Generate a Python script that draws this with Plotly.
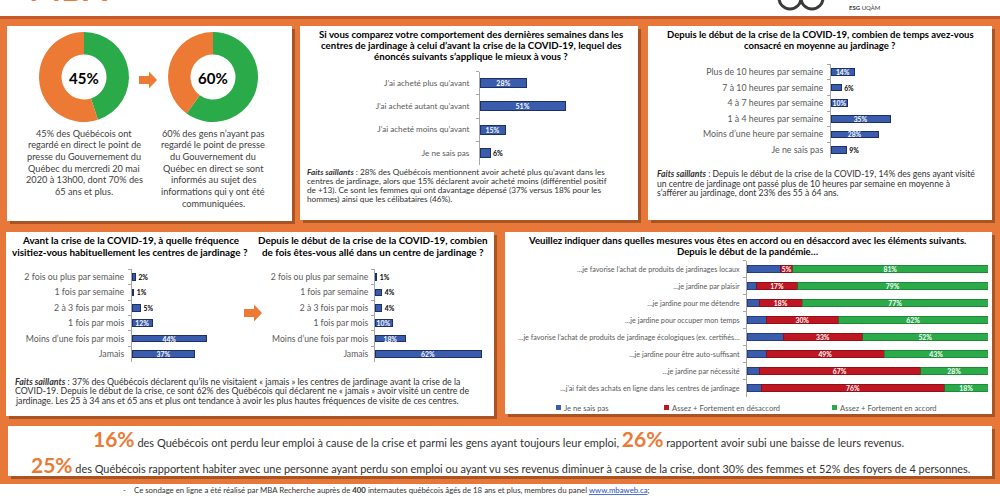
import plotly.graph_objects as go

W, H = 1000, 500
def X(p): return p / W
def Y(p): return 1 - p / H

FONT = "Lato, Roboto, sans-serif"
ORANGE = "#EC7A35"
BG_ORANGE = "#E8783A"
GREEN = "#2BAA4A"
GREEN_EDGE = "#1B7A33"
BLUE = "#3A5CAD"
BLUE_EDGE = "#1E2F66"
RED = "#BE1622"
RED_EDGE = "#7E0E14"
GRAY_LABEL = "#595959"
TEXT = "#303030"

# ---------------- data ----------------
donut_pct = [45, 60]
donut_labels = ["45%", "60%"]

achat_cats = ["J’ai acheté plus qu’avant", "J’ai acheté autant qu’avant",
              "J’ai acheté moins qu’avant", "Je ne sais pas"]
achat_vals = [28, 51, 15, 6]

temps_cats = ["Plus de 10 heures par semaine", "7 à 10 heures par semaine",
              "4 à 7 heures par semaine", "1 à 4 heures par semaine",
              "Moins d’une heure par semaine", "Je ne sais pas"]
temps_vals = [14, 6, 10, 35, 28, 9]

freq_cats = ["2 fois ou plus par semaine", "1 fois par semaine", "2 à 3 fois par mois",
             "1 fois par mois", "Moins d’une fois par mois", "Jamais"]
avant_vals = [2, 1, 5, 12, 44, 37]
depuis_vals = [1, 4, 4, 10, 18, 62]

accord_cats = ["…je favorise l’achat de produits de jardinages locaux",
               "…je jardine par plaisir",
               "…je jardine pour me détendre",
               "…je jardine pour occuper mon temps",
               "…je favorise l’achat de produits de jardinage écologiques (ex. certifiés…",
               "…je jardine pour être auto-suffisant",
               "…je jardine par nécessité",
               "…j’ai fait des achats en ligne dans les centres de jardinage"]
nsp_vals = [14, 4, 5, 8, 15, 8, 5, 6]
desaccord_vals = [5, 17, 18, 30, 33, 49, 67, 76]
accord_vals = [81, 79, 77, 62, 52, 43, 28, 18]
accord_series = ["Je ne sais pas", "Assez + Fortement en désaccord", "Assez + Fortement en accord"]

# ---------------- helpers ----------------
fig = go.Figure()
shapes = []
annotations = []
layout_axes = {}

def rect(x0, y0, x1, y1, color):
    shapes.append(dict(type="rect", xref="paper", yref="paper", x0=X(x0), x1=X(x1),
                       y0=Y(y1), y1=Y(y0), fillcolor=color, line=dict(width=0), layer="below"))

def panel(x0, y0, x1, y1):
    rect(x0 + 3, y0 + 3, x1 + 3, y1 + 3, "rgba(90,40,10,0.45)")
    rect(x0, y0, x1, y1, "white")

def txt(x, y, s, size, color=TEXT, xanchor="center", family=FONT, yanchor="middle"):
    annotations.append(dict(x=X(x), y=Y(y), xref="paper", yref="paper", text=s, showarrow=False,
                            xanchor=xanchor, yanchor=yanchor, align="left" if xanchor == "left" else "center",
                            font=dict(size=size, color=color, family=family), borderpad=0))

def lines(x, y0, dy, items, size, color=TEXT, xanchor="center"):
    for i, s in enumerate(items):
        txt(x, y0 + i * dy, s, size, color, xanchor)

def arrow(x0, yc, length=18, body_h=8, head_h=17, head_len=8):
    pts = [(x0, yc - body_h / 2), (x0 + length - head_len, yc - body_h / 2),
           (x0 + length - head_len, yc - head_h / 2), (x0 + length, yc),
           (x0 + length - head_len, yc + head_h / 2), (x0 + length - head_len, yc + body_h / 2),
           (x0, yc + body_h / 2)]
    path = "M " + " L ".join(f"{X(a):.5f},{Y(b):.5f}" for a, b in pts) + " Z"
    shapes.append(dict(type="path", xref="paper", yref="paper", path=path,
                       fillcolor=ORANGE, line=dict(width=0), layer="above"))

def axes(n, x0px, ppp, xmax, ytop, ybot, tick_size, standoff=1):
    layout_axes[f"xaxis{n}"] = dict(domain=[X(x0px), X(x0px + ppp * xmax)], range=[0, xmax],
                                    visible=False, anchor=f"y{n}", fixedrange=True)
    layout_axes[f"yaxis{n}"] = dict(domain=[Y(ybot), Y(ytop)], anchor=f"x{n}", autorange="reversed",
                                    type="category", showline=True, linecolor="#A6A6A6", linewidth=1,
                                    ticks="outside", tickson="boundaries", ticklen=3, tickcolor="#A6A6A6",
                                    tickfont=dict(size=tick_size, color=GRAY_LABEL, family=FONT),
                                    showgrid=False, zeroline=False, ticklabelstandoff=standoff,
                                    fixedrange=True)

def hbar(n, cats, vals, inside_min, label_size, width=0.42):
    pos = ["inside" if v >= inside_min else "outside" for v in vals]
    fig.add_trace(go.Bar(
        x=vals, y=cats, orientation="h", xaxis=f"x{n}", yaxis=f"y{n}",
        marker=dict(color=BLUE, line=dict(color=BLUE_EDGE, width=1)), width=width,
        text=[f"<b>{v}%</b>" for v in vals], textposition=pos, textangle=0,
        insidetextanchor="middle", constraintext="none", cliponaxis=False,
        insidetextfont=dict(color="white", size=label_size, family=FONT),
        outsidetextfont=dict(color="black", size=label_size, family=FONT),
        showlegend=False, hoverinfo="skip"))

# ---------------- background ----------------
rect(0, 16, 1000, 484, BG_ORANGE)
rect(0, 16, 1000, 19, "#C4592A")

panel(7, 26, 292, 221)
panel(300, 26, 638, 220)
panel(648, 26, 992, 220)
panel(6, 232, 494, 416)
panel(505, 232, 992, 414)
panel(8, 426, 992, 476)

# ---------------- header (cut off logos) ----------------
txt(28, 9, "<b>MBA</b>", 34, ORANGE, xanchor="left", yanchor="bottom")
for cx in (790, 812):
    shapes.append(dict(type="circle", xref="paper", yref="paper", x0=X(cx - 11), x1=X(cx + 11),
                       y0=Y(9), y1=Y(-13), line=dict(color="#3A3A3A", width=3), layer="above"))
txt(848, 7, "<b>ESG</b> UQÀM", 6, "#3A3A3A", xanchor="left")

# ---------------- panel 1: donuts ----------------
for cx, v, lab in zip([84, 213], donut_pct, donut_labels):
    fig.add_trace(go.Pie(values=[v, 100 - v], marker=dict(colors=[GREEN, ORANGE]), hole=0.5,
                         sort=False, direction="clockwise", rotation=0, textinfo="none",
                         hoverinfo="skip", showlegend=False,
                         domain=dict(x=[X(cx - 45), X(cx + 45)], y=[Y(77 + 45), Y(77 - 45)])))
    txt(cx, 78, f"<b>{lab}</b>", 15, "black")
arrow(139, 80)

lines(84, 133, 11.7, ["45% des Québécois ont", "regardé en direct le point de",
                      "presse du Gouvernement du", "Québec du mercredi 20 mai",
                      "2020 à 13h00, dont 70% des", "65 ans et plus."], 9.2, "#404040")
lines(213, 133, 11.7, ["60% des gens n’ayant pas", "regardé le point de presse",
                       "du Gouvernement du", "Québec en direct se sont",
                       "informés au sujet des", "informations qui y ont été",
                       "communiquées."], 9.2, "#404040")

# ---------------- panel 2 ----------------
lines(471, 34.5, 10.6, ["<b>Si vous comparez votre comportement des dernières semaines dans les</b>",
                        "<b>centres de jardinage à celui d’avant la crise de la COVID-19, lequel des</b>",
                        "<b>énoncés suivants s’applique le mieux à vous ?</b>"], 9.7, "black")
hbar(1, achat_cats, achat_vals, 10, 7, width=0.38)
axes(1, 480, 1.67, 55, 71.5, 164.5, 8.1, standoff=8)
lines(306, 172, 9.0, ["<b><i>Faits saillants</i></b> : 28% des Québécois mentionnent avoir acheté plus qu’avant dans les",
                      "centres de jardinage, alors que 15% déclarent avoir acheté moins (différentiel positif",
                      "de +13). Ce sont les femmes qui ont davantage dépensé (37% versus 18% pour les",
                      "hommes) ainsi que les célibataires (46%)."], 8.2, TEXT, xanchor="left")

# ---------------- panel 3 ----------------
lines(820, 34.5, 10.6, ["<b>Depuis le début de la crise de la COVID-19, combien de temps avez-vous</b>",
                        "<b>consacré en moyenne au jardinage ?</b>"], 9.5, "black")
hbar(2, temps_cats, temps_vals, 10, 6.8, width=0.42)
axes(2, 831, 1.69, 40, 64.2, 157.8, 8.8, standoff=5)
lines(656, 174, 9.6, ["<b><i>Faits saillants</i></b> : Depuis le début de la crise de la COVID-19, 14% des gens ayant visité",
                      "un centre de jardinage ont passé plus de 10 heures par semaine en moyenne à",
                      "s’afférer au jardinage, dont 23% des 55 à 64 ans."], 8.6, TEXT, xanchor="left")

# ---------------- panel 4 ----------------
lines(130, 240, 11.5, ["<b>Avant la crise de la COVID-19, à quelle fréquence</b>",
                       "<b>visitiez-vous habituellement les centres de jardinage ?</b>"], 9.9, "black")
hbar(3, freq_cats, avant_vals, 10, 6.8, width=0.42)
axes(3, 132, 1.7, 50, 269.3, 361.7, 8.8, standoff=5)
arrow(244, 313)
lines(373, 240, 11.5, ["<b>Depuis le début de la crise de la COVID-19, combien</b>",
                       "<b>de fois êtes-vous allé dans un centre de jardinage ?</b>"], 9.9, "black")
hbar(4, freq_cats, depuis_vals, 10, 6.8, width=0.42)
axes(4, 375, 1.71, 65, 269.3, 361.7, 8.6, standoff=4)
lines(14, 381, 9.8, ["<b><i>Faits saillants</i></b> : 37% des Québécois déclarent qu’ils ne visitaient « jamais » les centres de jardinage avant la crise de la",
                     "COVID-19. Depuis le début de la crise, ce sont 62% des Québécois qui déclarent ne « jamais » avoir visité un centre de",
                     "jardinage. Les 25 à 34 ans et 65 ans et plus ont tendance à avoir les plus hautes fréquences de visite de ces centres."],
      8.8, TEXT, xanchor="left")

# ---------------- panel 5 ----------------
lines(747, 240, 11.5, ["<b>Veuillez indiquer dans quelles mesures vous êtes en accord ou en désaccord avec les éléments suivants.</b>",
                       "<b>Depuis le début de la pandémie…</b>"], 9.6, "black")
for name, vals, col, edge, show in zip(accord_series, [nsp_vals, desaccord_vals, accord_vals],
                                       [BLUE, RED, GREEN], [BLUE_EDGE, RED_EDGE, GREEN_EDGE],
                                       [False, True, True]):
    fig.add_trace(go.Bar(
        x=vals, y=accord_cats, orientation="h", xaxis="x5", yaxis="y5", name=name,
        marker=dict(color=col, line=dict(color=edge, width=0.7)), width=0.42,
        text=[f"<b>{v}%</b>" for v in vals] if show else None,
        textposition="inside", textangle=0, insidetextanchor="middle", constraintext="none",
        insidetextfont=dict(color="white", size=6.8, family=FONT),
        showlegend=False, hoverinfo="skip"))
axes(5, 747, 2.41, 100, 260.5, 396.5, 7.2, standoff=5)

for (sx, tx), name, col in zip([(556, 563), (664, 671), (832, 839)], accord_series, [BLUE, RED, GREEN]):
    shapes.append(dict(type="rect", xref="paper", yref="paper", x0=X(sx), x1=X(sx + 5),
                       y0=Y(410), y1=Y(405), fillcolor=col, line=dict(width=0), layer="above"))
    txt(tx, 407.5, name, 7.6, GRAY_LABEL, xanchor="left")

# ---------------- panel 6 ----------------
big = "<span style='font-size:21px;color:#EC7A35'><b>{}</b></span>"
txt(498, 438, big.format("16%") + " des Québécois ont perdu leur emploi à cause de la crise et parmi les gens ayant toujours leur emploi, "
    + big.format("26%") + " rapportent avoir subi une baisse de leurs revenus.", 11, "#333333")
txt(500, 464, big.format("25%") + " des Québécois rapportent habiter avec une personne ayant perdu son emploi ou ayant vu ses revenus diminuer à cause de la crise, dont 30% des femmes et 52% des foyers de 4 personnes.",
    10.9, "#333333")

# ---------------- footnote ----------------
txt(122, 490, "-", 7.8, "#333333", xanchor="left")
txt(133, 490, "Ce sondage en ligne a été réalisé par MBA Recherche auprès de <b>400</b> internautes québécois âgés de 18 ans et plus, membres du panel "
    "<span style='color:#1F4EBF'><u>www.mbaweb.ca</u></span>;", 7.8, "#333333", xanchor="left")

fig.update_layout(width=W, height=H, margin=dict(l=0, r=0, t=0, b=0),
                  paper_bgcolor="white", plot_bgcolor="rgba(0,0,0,0)",
                  barmode="stack", bargap=0.5, showlegend=False,
                  shapes=shapes, annotations=annotations, font=dict(family=FONT),
                  **layout_axes)

fig.write_html("out.html", config={"displayModeBar": False},
               post_script="document.body.style.margin='0px';document.body.style.overflow='hidden';")
